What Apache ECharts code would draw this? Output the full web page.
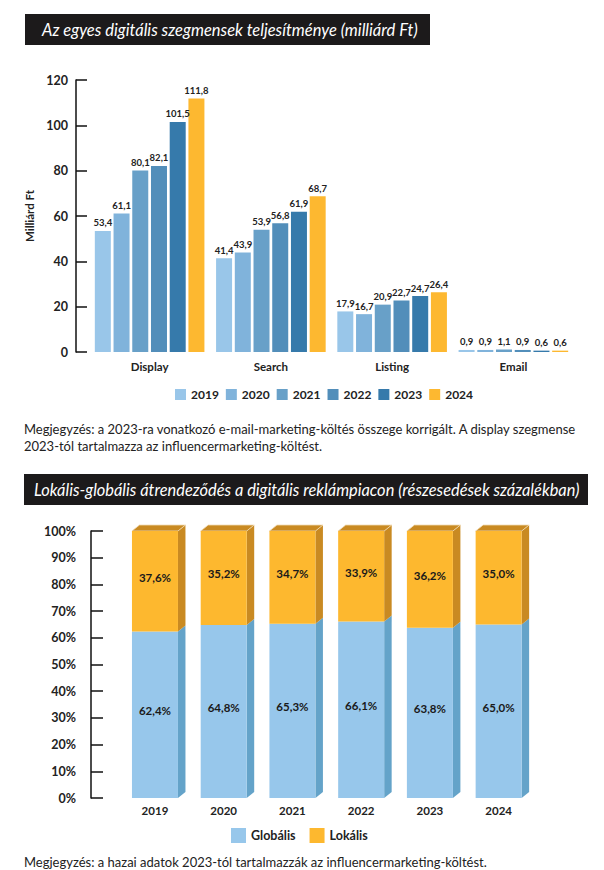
<!DOCTYPE html>
<html><head><meta charset="utf-8">
<script src="https://cdn.jsdelivr.net/npm/echarts@6/dist/echarts.min.js"></script>
<style>html,body{margin:0;padding:0;background:#fff}#c{width:604px;height:870px}</style>
</head><body><div id="c"></div>
<script>
// Chart 1 data
const segments = ['Display', 'Search', 'Listing', 'Email'];
const years1 = ['2019', '2020', '2021', '2022', '2023', '2024'];
const v2019 = [53.4, 41.4, 17.9, 0.9];
const v2020 = [61.1, 43.9, 16.7, 0.9];
const v2021 = [80.1, 53.9, 20.9, 1.1];
const v2022 = [82.1, 56.8, 22.7, 0.9];
const v2023 = [101.5, 61.9, 24.7, 0.6];
const v2024 = [111.8, 68.7, 26.4, 0.6];
const colors1 = ['#99c6e9', '#80b3db', '#68a0c8', '#528eba', '#367aab', '#fdb830'];

// Chart 2 data
const years2 = ['2019', '2020', '2021', '2022', '2023', '2024'];
const globalis = [62.4, 64.8, 65.3, 66.1, 63.8, 65.0];
const lokalis = [37.6, 35.2, 34.7, 33.9, 36.2, 35.0];

const title1 = 'Az egyes digitális szegmensek teljesítménye (milliárd Ft)';
const title2 = 'Lokális-globális átrendeződés a digitális reklámpiacon (részesedések százalékban)';
const note1a = 'Megjegyzés: a 2023-ra vonatkozó e-mail-marketing-költés összege korrigált. A display szegmense';
const note1b = '2023-tól tartalmazza az influencermarketing-költést.';
const note2 = 'Megjegyzés: a hazai adatok 2023-tól tartalmazzák az influencermarketing-költést.';

const FONT = 'Lato, "Noto Sans", sans-serif';
const fmt = v => v.toFixed(1).replace('.', ',');

const chart = echarts.init(document.getElementById('c'), null, {renderer: 'svg'});
const vals1 = [v2019, v2020, v2021, v2022, v2023, v2024];

const series = vals1.map((arr, i) => ({
  name: years1[i], type: 'bar', xAxisIndex: 0, yAxisIndex: 0,
  data: arr, barWidth: 16, barGap: '17%',
  itemStyle: {color: colors1[i]},
  label: {show: true, position: 'top', distance: 3, fontSize: 9.5, fontWeight: 700, color: '#222', fontFamily: FONT,
    formatter: p => fmt(p.value)}
}));

const D = 7.5, DY = 6, HW = 23;
series.push({
  name: 'Globális', type: 'bar', stack: 's', xAxisIndex: 1, yAxisIndex: 1, barWidth: 46,
  data: globalis, itemStyle: {color: '#97c7eb'}, z: 3,
  label: {show: true, position: 'inside', fontSize: 11.5, fontWeight: 700, color: '#1a1a1a', fontFamily: FONT, offset: [0, -4],
    formatter: p => fmt(p.value) + '%'}
});
series.push({
  name: 'Lokális', type: 'bar', stack: 's', xAxisIndex: 1, yAxisIndex: 1, barWidth: 46,
  data: lokalis, itemStyle: {color: '#fdb82f'}, z: 3,
  label: {show: true, position: 'inside', fontSize: 11.5, fontWeight: 700, color: '#1a1a1a', fontFamily: FONT, offset: [0, -4],
    formatter: p => fmt(p.value) + '%'}
});
series.push({
  name: '3d', type: 'custom', xAxisIndex: 1, yAxisIndex: 1, z: 2, silent: true,
  data: globalis.map((g, i) => [i, g, lokalis[i]]),
  renderItem: (params, api) => {
    const i = api.value(0), g = api.value(1), l = api.value(2);
    const p0 = api.coord([i, 0]), pg = api.coord([i, g]), pt = api.coord([i, g + l]);
    const xr = p0[0] + HW, xl = p0[0] - HW;
    return {type: 'group', children: [
      {type: 'polygon', shape: {points: [[xr, p0[1]], [xr + D, p0[1] - DY], [xr + D, pg[1] - DY], [xr, pg[1]]]}, style: {fill: '#64a3c9'}},
      {type: 'polygon', shape: {points: [[xr, pg[1]], [xr + D, pg[1] - DY], [xr + D, pt[1] - DY], [xr, pt[1]]]}, style: {fill: '#c98a22'}},
      {type: 'polygon', shape: {points: [[xl, pt[1]], [xl + D, pt[1] - DY], [xr + D, pt[1] - DY], [xr, pt[1]]]}, style: {fill: '#c98a22', stroke: '#f1dcb6', lineWidth: 0.8}}
    ]};
  }
});

const measureCtx = document.createElement('canvas').getContext('2d');
const BANNER_FONT = 'italic 17px Lato, "Noto Sans", sans-serif';
const banner = (x, y, w, h, text, tx, tw) => {
  measureCtx.font = BANNER_FONT;
  const s = tw / measureCtx.measureText(text).width;
  return {
    type: 'group', left: x, top: y, children: [
      {type: 'rect', shape: {x: 0, y: 0, width: w, height: h}, style: {fill: '#1c1a1b'}},
      {type: 'text', x: tx, y: h / 2, scaleX: s, originX: 0, originY: 0,
        style: {text: text, fill: '#fff', font: BANNER_FONT, verticalAlign: 'middle'}}
    ]
  };
};

chart.setOption({
  animation: false,
  backgroundColor: '#fff',
  grid: [
    {left: 89, right: 30, top: 80, height: 272},
    {left: 120.6, right: 71, top: 531, height: 267}
  ],
  xAxis: [
    {type: 'category', gridIndex: 0, data: segments, axisLine: {show: false}, axisTick: {show: false},
      axisLabel: {fontSize: 11.5, fontWeight: 700, color: '#222', margin: 8, fontFamily: FONT}},
    {type: 'category', gridIndex: 1, data: years2, axisLine: {show: false}, axisTick: {show: false},
      axisLabel: {fontSize: 11.5, fontWeight: 700, color: '#222', margin: 6, fontFamily: FONT}}
  ],
  yAxis: [
    {type: 'value', gridIndex: 0, min: 0, max: 120, interval: 20, offset: 13,
      name: 'Milliárd Ft', nameLocation: 'middle', nameGap: 41, nameRotate: 90,
      nameTextStyle: {fontSize: 11.5, fontWeight: 700, color: '#222', fontFamily: FONT},
      axisLine: {show: true, lineStyle: {color: '#111', width: 1.5}},
      axisTick: {show: true, inside: true, length: 11, lineStyle: {color: '#111', width: 1.5}},
      splitLine: {show: false},
      axisLabel: {fontSize: 12.5, fontWeight: 700, color: '#222', margin: 8, fontFamily: FONT}},
    {type: 'value', gridIndex: 1, min: 0, max: 100, interval: 10, offset: 29.6,
      axisLine: {show: true, lineStyle: {color: '#111', width: 1.5}},
      axisTick: {show: true, inside: true, length: 12, lineStyle: {color: '#111', width: 1.5}},
      splitLine: {show: false},
      axisLabel: {fontSize: 12.5, fontWeight: 700, color: '#222', margin: 15, fontFamily: FONT, formatter: '{value}%'}}
  ],
  legend: [
    {data: years1, left: 175, top: 388.5, padding: 0, itemWidth: 11, itemHeight: 11, itemGap: 7, icon: 'rect',
      textStyle: {fontSize: 12, fontWeight: 700, color: '#222', fontFamily: FONT}},
    {data: ['Globális', 'Lokális'], left: 231, top: 828, padding: 0, itemWidth: 15, itemHeight: 15, itemGap: 14, icon: 'rect',
      textStyle: {fontSize: 12.5, fontWeight: 700, color: '#222', fontFamily: FONT}}
  ],
  graphic: [
    banner(25, 14, 405, 31, title1, 17, 376),
    banner(24, 474, 564, 31, title2, 10, 546),
    {type: 'text', left: 24, top: 420, style: {text: note1a + '\n' + note1b, fill: '#222', font: '13px ' + FONT, lineHeight: 17}},
    {type: 'text', left: 24, top: 855, style: {text: note2, fill: '#222', font: '13px ' + FONT}}
  ],
  series: series
});
</script></body></html>
